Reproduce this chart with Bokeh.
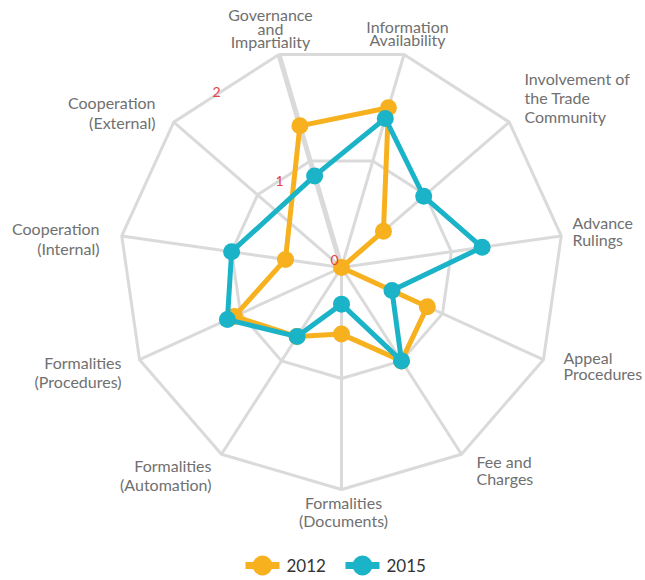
import math
from bokeh.plotting import figure
from bokeh.models import Range1d
from bokeh.core.properties import value
from bokeh.embed import file_html
from bokeh.resources import INLINE

# ---- data ----
categories = [
    "Governance\nand\nImpartiality",
    "Information\nAvailability",
    "Involvement of\nthe Trade\nCommunity",
    "Advance\nRulings",
    "Appeal\nProcedures",
    "Fee and\nCharges",
    "Formalities\n(Documents)",
    "Formalities\n(Automation)",
    "Formalities\n(Procedures)",
    "Cooperation\n(Internal)",
    "Cooperation\n(External)",
]
series_names = ["2012", "2015"]
values_2012 = [1.33, 1.50, 0.50, 0.0, 0.85, 1.0, 0.60, 0.74, 1.06, 0.51, None]
values_2015 = [0.86, 1.40, 0.98, 1.28, 0.50, 1.0, 0.33, 0.74, 1.13, 1.00, None]
ring_values = [1, 2]
tick_labels = ["0", "1", "2"]

# ---- styles / layout ----
ORANGE = "#f7b11f"
TEAL = "#1bb3c7"
GRID = "#dadada"
LABEL_COLOR = "#707070"
TICK_COLOR = "#e2424c"
FONT = "Lato"

S = 111.0               # pixels per unit
CX, CY = 341.0, 267.0   # centre in page pixels
W, H = 645, 580
OX, OY = 0, 0           # page offset of the figure

def X(px):
    return (px - CX) / S

def Y(py):
    return (CY - py) / S

n = len(categories)
step = 2 * math.pi / n
angles = [(i - 0.5) * step for i in range(n)]

def polar(r, a):
    return r * math.sin(a), r * math.cos(a)

p = figure(width=W, height=H, output_backend="svg", toolbar_location=None,
           x_range=Range1d(X(OX), X(OX + W)), y_range=Range1d(Y(OY + H), Y(OY)),
           x_axis_location=None, y_axis_location=None, min_border=0)
p.grid.visible = False
p.outline_line_color = None
p.background_fill_color = "white"
p.border_fill_color = "white"

rmax = max(ring_values)
# spokes
for i, a in enumerate(angles):
    ex, ey = polar(rmax, a)
    p.line([0, ex], [0, ey], line_color=GRID, line_width=5 if i == 0 else 3)
# rings
for rv in ring_values:
    pts = [polar(rv, a) for a in angles]
    xs = [q[0] for q in pts] + [pts[0][0]]
    ys = [q[1] for q in pts] + [pts[0][1]]
    p.line(xs, ys, line_color=GRID, line_width=3, line_join="round")

# series
for vals, col in ((values_2012, ORANGE), (values_2015, TEAL)):
    xs, ys = [], []
    for v, a in zip(vals, angles):
        if v is None:
            continue
        x, y = polar(v, a)
        xs.append(x)
        ys.append(y)
    p.line(xs + [xs[0]], ys + [ys[0]], line_color=col, line_width=5, line_join="round")
    p.scatter(xs, ys, size=17, fill_color=col, line_color=None)

# tick labels
tick_ang = math.radians(-35.5)
tick_pos = [(X(334), Y(259)), polar(0.96, tick_ang), polar(1.94, tick_ang)]
for t, (tx, ty) in zip(tick_labels, tick_pos):
    p.text([tx], [ty], text=[t], text_color=TICK_COLOR, text_font=value(FONT),
           text_font_size="14px", text_align="center", text_baseline="middle")

# category labels: (x px, first baseline px, line spacing px, align)
DY = -6
label_layout = [
    (270, 20, 13.5, "center"),
    (407, 32, 13, "center"),
    (524, 84, 19, "left"),
    (572, 228, 17, "left"),
    (563, 363, 15.5, "left"),
    (476, 467, 16.5, "left"),
    (343, 508, 17.5, "center"),
    (211, 471, 18.5, "right"),
    (121, 368, 18.5, "right"),
    (99, 234, 20, "right"),
    (155, 108, 20, "right"),
]
for cat, (lx, ly, sp, al) in zip(categories, label_layout):
    for k, line in enumerate(cat.split("\n")):
        p.text([X(lx)], [Y(ly + DY + k * sp)], text=[line], text_color=LABEL_COLOR,
               text_font=value(FONT), text_font_size="16px",
               text_align=al, text_baseline="alphabetic")

# legend
legend_layout = [(262, ORANGE), (362, TEAL)]
LY = 565
for name, (lxc, col) in zip(series_names, legend_layout):
    p.line([X(lxc - 17), X(lxc + 17)], [Y(LY), Y(LY)], line_color=col, line_width=7)
    p.scatter([X(lxc)], [Y(LY)], size=20, fill_color=col, line_color=None)
    p.text([X(lxc + 24)], [Y(LY)], text=[name], text_color="#333333",
           text_font=value(FONT), text_font_size="17px",
           text_align="left", text_baseline="middle")

open("out.html", "w").write(file_html(p, INLINE))
